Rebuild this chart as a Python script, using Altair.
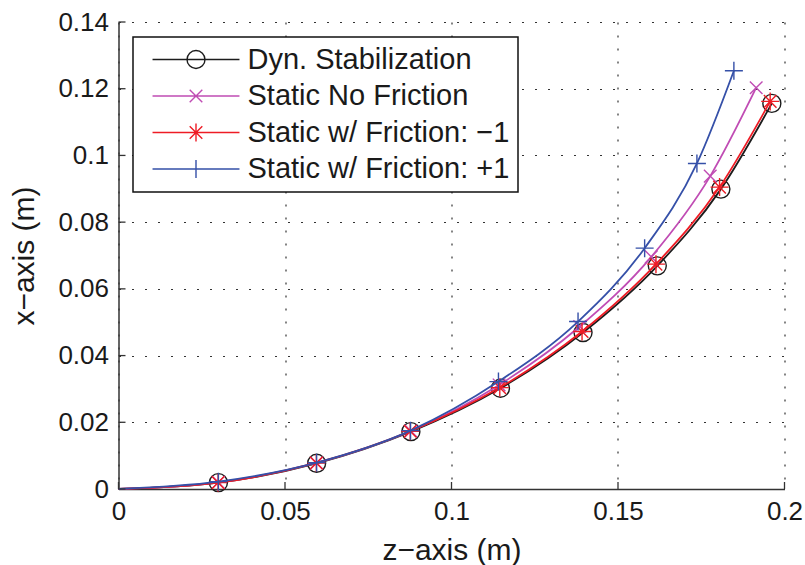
import altair as alt
import pandas as pd

# ---- data ----
series_names = ["Dyn. Stabilization", "Static No Friction",
                "Static w/ Friction: \u22121", "Static w/ Friction: +1"]
series_colors = ["#1c1c1c", "#c04cb4", "#ee1c25", "#3550a8"]

dyn_z = [0, 0.0300, 0.0595, 0.0878, 0.1147, 0.1395, 0.1618, 0.1809, 0.1962]
dyn_x = [0, 0.0019, 0.0077, 0.0172, 0.0302, 0.0469, 0.0669, 0.0899, 0.1156]

nofr_z = [0, 0.0300, 0.0595, 0.0878, 0.1143, 0.1385, 0.1600, 0.1777, 0.1915]
nofr_x = [0, 0.0020, 0.0078, 0.0174, 0.0312, 0.0487, 0.0696, 0.0938, 0.1203]

frm_z = [0, 0.0299, 0.0594, 0.0876, 0.1145, 0.1392, 0.1614, 0.1805, 0.1957]
frm_x = [0, 0.0019, 0.0078, 0.0173, 0.0304, 0.0472, 0.0674, 0.0905, 0.1162]

frp_z = [0, 0.0300, 0.0595, 0.0877, 0.1141, 0.1380, 0.1580, 0.1737, 0.1848]
frp_x = [0, 0.0022, 0.0079, 0.0175, 0.0322, 0.0502, 0.0722, 0.0976, 0.1254]

x_tick_values = [0, 0.05, 0.1, 0.15, 0.2]
y_tick_values = [0, 0.02, 0.04, 0.06, 0.08, 0.1, 0.12, 0.14]

# ---- build table ----
rows = []
for name, zs, xs in zip(series_names,
                        [dyn_z, nofr_z, frm_z, frp_z],
                        [dyn_x, nofr_x, frm_x, frp_x]):
    for i, (z, x) in enumerate(zip(zs, xs)):
        rows.append({"series": name, "z": z, "x": x, "order": i,
                     "marker": i > 0})
df = pd.DataFrame(rows)

W, H = 666, 467
FONT = "Liberation Sans"
TXT = "#1a1a1a"

marker_paths = [
    "circle",
    "M-0.7,-0.7L0.7,0.7M-0.7,0.7L0.7,-0.7",
    "M-1,0H1M0,-1V1M-0.7,-0.7L0.7,0.7M-0.7,0.7L0.7,-0.7",
    "M-1,0H1M0,-1V1",
]
legend_paths = [
    "M-4.83,0H4.83M1,0A1,1 0 1,1 -1,0A1,1 0 1,1 1,0Z",
    "M-4.83,0H4.83M-0.7,-0.7L0.7,0.7M-0.7,0.7L0.7,-0.7",
    "M-4.83,0H4.83M0,-1V1M-0.7,-0.7L0.7,0.7M-0.7,0.7L0.7,-0.7",
    "M-4.83,0H4.83M0,-1V1",
]

xscale = alt.Scale(domain=[0, 0.2], nice=False, zero=False)
yscale = alt.Scale(domain=[0, 0.14], nice=False, zero=False)
cscale = alt.Scale(domain=series_names, range=series_colors)

xaxis = alt.Axis(values=x_tick_values, format=".2~f", title="z\u2212axis (m)",
                 ticks=False, labelPadding=9, titlePadding=11, labelFlush=False,
                 grid=True, gridDash=[2, 11], gridColor="#333333", gridWidth=1.2,
                 domainColor="#333333", domainWidth=1.5)
yaxis = alt.Axis(values=y_tick_values, format=".2~f", title="x\u2212axis (m)",
                 ticks=False, labelPadding=10, titlePadding=18, labelFlush=False,
                 grid=True, gridDash=[2, 11], gridColor="#333333", gridWidth=1.2,
                 domainColor="#333333", domainWidth=1.5)


def X(field):
    return alt.X(field, type="quantitative", scale=xscale, axis=xaxis)


def Y(field):
    return alt.Y(field, type="quantitative", scale=yscale, axis=yaxis)


base = alt.Chart(df)

layers = []
for name, col, mp in zip(series_names, series_colors, marker_paths):
    sub = base.transform_filter(alt.datum.series == name)
    line = sub.mark_line(interpolate="monotone", strokeWidth=1.8, color=col).encode(
        x=X("z"), y=Y("x"), order="order:Q",
    )
    pts = sub.transform_filter(alt.datum.marker).mark_point(
        shape=mp, size=324, filled=False, strokeWidth=1.4, color=col, opacity=1
    ).encode(x=X("z"), y=Y("x"))
    layers += [line, pts]

# inward ticks
xt = pd.DataFrame({"t": x_tick_values})
yt = pd.DataFrame({"t": y_tick_values})
xticks = alt.Chart(xt).mark_rule(color="#333333", strokeWidth=1.3).encode(
    x=X("t"), y=alt.value(H), y2=alt.value(H - 7),
)
yticks = alt.Chart(yt).mark_rule(color="#333333", strokeWidth=1.3).encode(
    y=Y("t"), x=alt.value(0), x2=alt.value(7),
)
layers += [xticks, yticks]

# legend carrier (no visible marks)
leg = alt.Legend(title=None, orient="none", legendX=14.5, legendY=15,
                 strokeColor="#111111", fillColor="white", padding=8,
                 symbolSize=324, symbolStrokeWidth=1.4, symbolOffset=40.5,
                 labelOffset=37, labelFontSize=29, labelFont=FONT,
                 labelColor=TXT, labelLimit=500, rowPadding=6.5,
                 symbolFillColor="transparent", symbolOpacity=1, cornerRadius=0)
legend_layer = base.transform_filter("false").mark_point(
    filled=False, size=324, strokeWidth=1.4, opacity=1
).encode(
    x=X("z"), y=Y("x"),
    color=alt.Color("series:N", scale=cscale, legend=leg),
    shape=alt.Shape("series:N", scale=alt.Scale(domain=series_names, range=legend_paths),
                    legend=leg),
)
layers.append(legend_layer)

chart = alt.layer(*layers).properties(
    width=W, height=H,
    autosize=alt.AutoSizeParams(type="none"),
    padding={"left": 118.5, "top": 22, "right": 20.5, "bottom": 76},
    background="white",
).configure_view(stroke=None).configure_axis(
    labelFont=FONT, labelFontSize=26, labelColor=TXT,
    titleFont=FONT, titleFontSize=30, titleColor=TXT, titleFontWeight="normal",
).configure_legend(strokeWidth=1.5)

chart.save("out.html", embed_options={"renderer": "svg", "actions": False})
